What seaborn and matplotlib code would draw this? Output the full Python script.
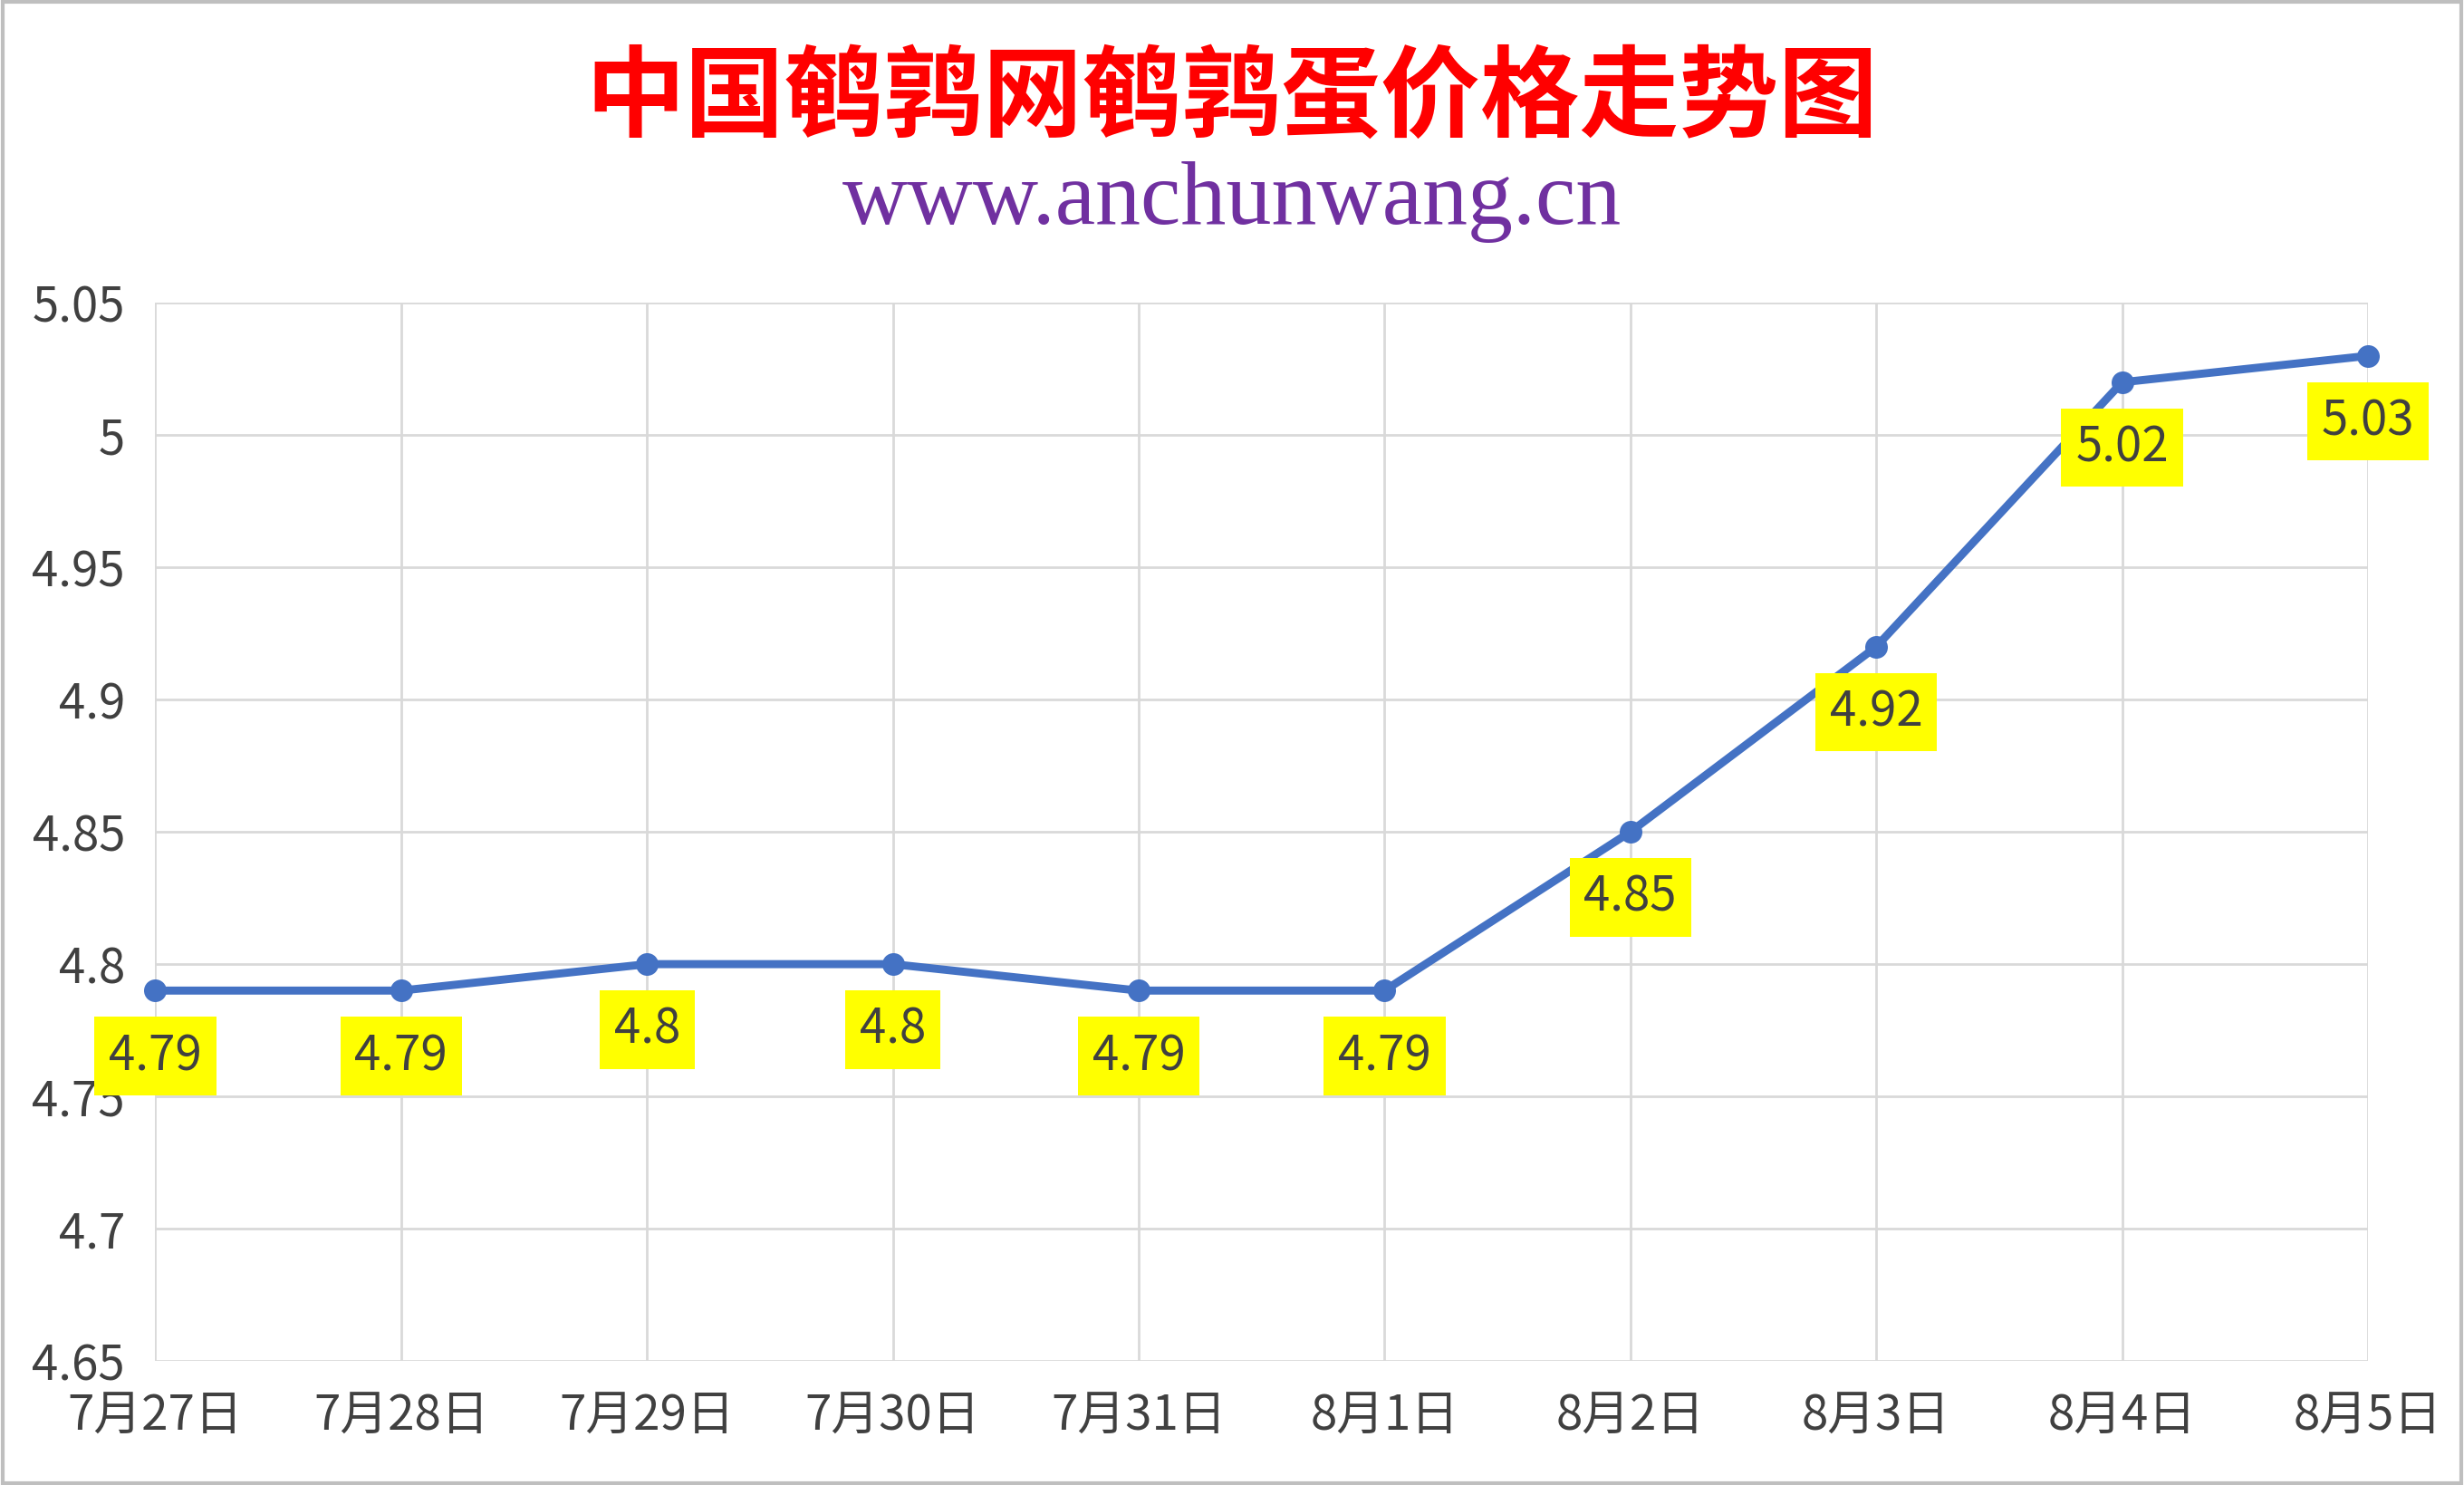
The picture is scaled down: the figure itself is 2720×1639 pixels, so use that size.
import pandas as pd
import matplotlib.pyplot as plt
import matplotlib.patches as mpatches
import seaborn as sns

dates = ['7月27日', '7月28日', '7月29日', '7月30日', '7月31日',
         '8月1日', '8月2日', '8月3日', '8月4日', '8月5日']
prices = [4.79, 4.79, 4.80, 4.80, 4.79, 4.79, 4.85, 4.92, 5.02, 5.03]
price_labels = ['4.79', '4.79', '4.8', '4.8', '4.79', '4.79', '4.85', '4.92', '5.02', '5.03']
y_ticks = [4.65, 4.7, 4.75, 4.8, 4.85, 4.9, 4.95, 5, 5.05]
y_tick_labels = ['4.65', '4.7', '4.75', '4.8', '4.85', '4.9', '4.95', '5', '5.05']

sns.set_style("white")
plt.rcParams['font.family'] = ['Noto Sans CJK SC', 'DejaVu Sans']

df = pd.DataFrame({'date': dates, 'price': prices})
df['pos'] = range(len(df))

fig = plt.figure(figsize=(13.6, 8.195), dpi=200)
ax = fig.add_axes([0.063, 0.0836, 0.898, 0.7124])

sns.lineplot(x='pos', y='price', data=df, ax=ax, color='#4472C4',
             linewidth=3.2, marker='o', markersize=9, markeredgewidth=0, zorder=3)
for ln in ax.lines:
    ln.set_clip_on(False)

for i, (v, lab) in enumerate(zip(prices, price_labels)):
    ax.annotate(lab, (i, v), xytext=(0, -26), textcoords='offset points',
                ha='center', va='center', fontsize=19, color='#404040',
                bbox=dict(boxstyle='square,pad=0.3', fc='#FFFF00', ec='none'),
                zorder=4)

ax.set_xlim(0, len(dates) - 1)
ax.set_ylim(4.65, 5.05)
ax.set_xticks(df['pos'])
ax.set_xticklabels(dates, fontsize=19, color='#404040')
ax.set_yticks(y_ticks)
ax.set_yticklabels(y_tick_labels, fontsize=19, color='#404040')
ax.tick_params(axis='both', length=0, pad=12)
ax.grid(True, color='#D9D9D9', linewidth=1.0)
ax.set_axisbelow(True)
for s in ax.spines.values():
    s.set_visible(False)
ax.set_xlabel('')
ax.set_ylabel('')

fig.text(0.5, 0.933, '中国鹌鹑网鹌鹑蛋价格走势图', ha='center', va='center',
         fontsize=39.5, color='#FF0000', fontweight='bold')
fig.text(0.5, 0.864, 'www.anchunwang.cn', ha='center', va='center',
         fontsize=36, color='#7030A0', family='Liberation Serif')

fig.patches.append(mpatches.Rectangle((0.001, 0.001), 0.998, 0.998, transform=fig.transFigure,
                                      fill=False, ec='#BFBFBF', lw=1.5))

plt.savefig('out.png', dpi=200)
plt.close()
